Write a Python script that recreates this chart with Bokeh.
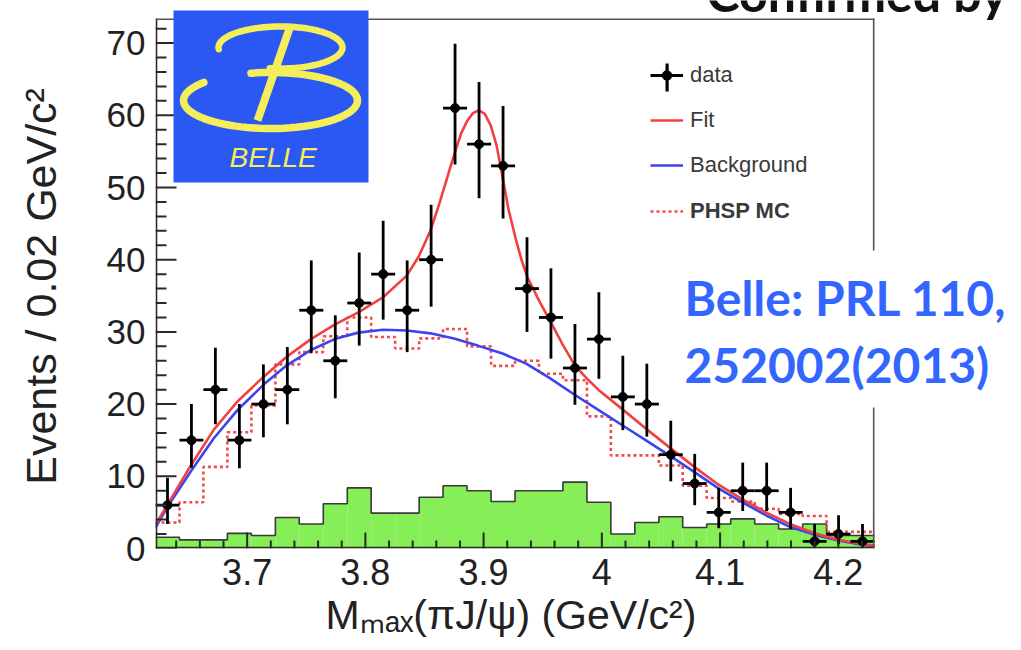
import numpy as np
from bokeh.plotting import figure
from bokeh.models import (Range1d, FixedTicker, Label, BoxAnnotation, PolyAnnotation,
                          Legend, LegendItem, ColumnDataSource, Title)
from bokeh.embed import file_html
from bokeh.resources import INLINE

# ---------------- data ----------------
bin_edges = [3.6225, 3.6428, 3.6630, 3.6833, 3.7036, 3.7239, 3.7441, 3.7644, 3.7847,
             3.8049, 3.8252, 3.8455, 3.8657, 3.8860, 3.9063, 3.9266, 3.9468, 3.9671,
             3.9874, 4.0076, 4.0279, 4.0482, 4.0684, 4.0887, 4.1090, 4.1293, 4.1495,
             4.1698, 4.1901, 4.2103, 4.2306]

data_counts = [6, 15, 22, 15, 20, 22, 33, 26, 34, 38, 33, 40, 61, 56, 53,
               36, 32, 25, 29, 21, 20, 13, 9, 5, 8, 8, 5, 1, 2, 1]
data_err_up = [3.8, 5.0, 5.8, 5.0, 5.5, 5.9, 6.9, 6.3, 7.0, 7.4, 6.9, 7.6, 8.9, 8.6, 8.3,
               7.1, 6.8, 6.1, 6.5, 5.7, 5.6, 4.7, 4.1, 3.4, 3.9, 3.9, 3.4, 2.4, 2.6, 2.4]
data_err_dn = [2.6, 3.8, 4.8, 3.9, 4.6, 4.8, 5.9, 5.2, 5.9, 6.3, 5.8, 6.5, 7.8, 7.5, 7.3,
               6.0, 5.7, 5.1, 5.5, 4.6, 4.5, 3.7, 3.0, 2.2, 2.8, 2.8, 2.3, 0.8, 1.4, 0.8]

phsp_mc = [3.6, 6.4, 11.3, 16.1, 19.8, 25.5, 27.2, 29.4, 32.0, 29.3, 27.7, 29.1, 30.4, 28.0, 25.3,
           26.0, 24.2, 23.3, 18.3, 12.9, 12.9, 11.5, 8.7, 7.0, 6.5, 5.5, 4.8, 4.5, 2.3, 2.3]

sideband = [1.55, 1.2, 1.2, 2.1, 1.8, 4.3, 3.4, 6.2, 8.4, 4.9, 4.9, 7.1, 8.7, 8.0, 6.5,
            8.0, 8.0, 9.2, 6.4, 2.0, 3.6, 4.4, 2.9, 3.4, 4.1, 3.4, 2.7, 3.4, 1.8, 1.8]

fit_x = [3.6225, 3.632, 3.652, 3.672, 3.692, 3.714, 3.733, 3.754, 3.774, 3.794, 3.815,
         3.835, 3.845, 3.855, 3.863, 3.870, 3.876, 3.881, 3.886, 3.891, 3.896, 3.901,
         3.906, 3.911, 3.916, 3.921, 3.927, 3.932, 3.937, 3.947, 3.957, 3.967, 3.977,
         3.987, 3.997, 4.018, 4.038, 4.058, 4.079, 4.099, 4.120, 4.140, 4.159, 4.180,
         4.200, 4.221, 4.2306]
fit_y = [3.3, 5.9, 11.4, 16.5, 20.4, 23.8, 26.5, 29.0, 31.0, 32.7, 34.8,
         37.8, 40.4, 44.0, 48.0, 51.8, 55.0, 57.5, 59.2, 60.3, 60.7, 60.2,
         58.6, 55.8, 51.5, 47.0, 43.0, 40.0, 37.6, 34.3, 31.3, 28.2, 25.4,
         23.6, 22.0, 19.2, 16.5, 13.9, 11.2, 8.8, 6.7, 4.9, 3.4, 2.1,
         1.2, 0.6, 0.4]

bkg_x = [3.6225, 3.632, 3.652, 3.672, 3.692, 3.714, 3.733, 3.754, 3.774, 3.794, 3.815,
         3.835, 3.855, 3.875, 3.895, 3.916, 3.936, 3.956, 3.976, 3.997, 4.018, 4.038,
         4.058, 4.079, 4.099, 4.120, 4.140, 4.159, 4.180, 4.200, 4.221, 4.2306]
bkg_y = [2.9, 5.6, 10.6, 15.3, 19.2, 22.7, 25.3, 27.5, 29.0, 29.9, 30.3,
         30.2, 29.8, 29.1, 28.1, 27.0, 25.6, 23.6, 21.4, 19.2, 17.0, 14.9,
         12.8, 10.5, 8.3, 6.3, 4.5, 3.0, 1.9, 1.1, 0.5, 0.3]

x_ticks = [3.7, 3.8, 3.9, 4.0, 4.1, 4.2]
x_tick_labels = ["3.7", "3.8", "3.9", "4", "4.1", "4.2"]
x_minor = [3.64, 3.66, 3.68, 3.72, 3.74, 3.76, 3.78, 3.82, 3.84, 3.86, 3.88, 3.92, 3.94,
           3.96, 3.98, 4.02, 4.04, 4.06, 4.08, 4.12, 4.14, 4.16, 4.18, 4.22]
y_ticks = [0, 10, 20, 30, 40, 50, 60, 70]
y_minor = [2, 4, 6, 8, 12, 14, 16, 18, 22, 24, 26, 28, 32, 34, 36, 38, 42, 44, 46, 48,
           52, 54, 56, 58, 62, 64, 66, 68, 72]

# ---------------- layout ----------------
W, H = 1021, 650
FL, FB = 155, 548          # plot area left / bottom (canvas px)
BOX_R, BOX_T = 874, 18     # ROOT frame right / top (canvas px)
PX_X = (BOX_R - FL) / (bin_edges[-1] - bin_edges[0])
PX_Y = 7.22
X0 = bin_edges[0]


def fx(cx):
    return cx - FL


def fy(cy):
    return FB - cy


def base(cy, size):
    # alphabetic baseline correction measured on the renderer
    return fy(cy - 0.375 * size)


p = figure(width=W, height=H, output_backend="svg", toolbar_location=None,
           x_range=Range1d(X0, X0 + (W - FL) / PX_X),
           y_range=Range1d(0, FB / PX_Y),
           min_border_left=FL, min_border_right=0, min_border_top=0,
           min_border_bottom=H - FB)
p.outline_line_color = None
p.xgrid.grid_line_color = None
p.ygrid.grid_line_color = None
p.background_fill_color = "white"
p.border_fill_color = "white"

AX = "#2a2a2a"
for ax in (p.xaxis[0], p.yaxis[0]):
    ax.axis_line_color = None
    ax.major_tick_line_color = None
    ax.minor_tick_line_color = None
    ax.major_tick_in = 0
    ax.major_tick_out = 0
    ax.minor_tick_in = 0
    ax.minor_tick_out = 0
    ax.major_label_text_font = "Liberation Sans"
    ax.major_label_text_color = "#222222"

p.xaxis.ticker = FixedTicker(ticks=x_ticks, minor_ticks=x_minor)
p.xaxis.major_label_overrides = {t: s for t, s in zip(x_ticks, x_tick_labels)}
p.xaxis.major_label_text_font_size = "36px"
p.xaxis.major_label_standoff = 10

p.yaxis.ticker = FixedTicker(ticks=y_ticks, minor_ticks=y_minor)
p.yaxis.major_label_text_font_size = "35px"
p.yaxis.major_label_standoff = 10
p.yaxis.axis_label = "Events / 0.02 GeV/c\u00b2\u00a0\u00a0"
p.yaxis.axis_label_text_font = "Liberation Sans"
p.yaxis.axis_label_text_font_style = "normal"
p.yaxis.axis_label_text_font_size = "43px"
p.yaxis.axis_label_text_color = "#222222"
p.yaxis.axis_label_standoff = 39

p.add_layout(Title(text="M\u2098\u2090\u2093(\u03c0J/\u03c8) (GeV/c\u00b2)", align="left",
                   offset=fx(325), standoff=5, text_font="Liberation Sans",
                   text_font_style="normal", text_font_size="41px", text_color="#222222"),
             "below")

# ---------------- glyphs ----------------
lefts = bin_edges[:-1]
rights = bin_edges[1:]
centers = [(a + b) / 2 for a, b in zip(lefts, rights)]

src = ColumnDataSource(dict(left=lefts, right=rights, x=centers, side=sideband, phsp=phsp_mc,
                            y=data_counts,
                            ylo=[v - d for v, d in zip(data_counts, data_err_dn)],
                            yhi=[v + u for v, u in zip(data_counts, data_err_up)]))

p.quad(left="left", right="right", bottom=0, top="side", source=src,
       fill_color="#86ee56", line_color=None)
p.step(x=bin_edges, y=sideband + [sideband[-1]], mode="after", line_color="#3a3a3a", line_width=1.6)

phsp_r = p.step(x=bin_edges, y=phsp_mc + [phsp_mc[-1]], mode="after",
                line_color="#f04a4a", line_width=2.6, line_dash="3 3")
bkg_r = p.line(bkg_x, bkg_y, line_color="#3c44f0", line_width=2.6)
fit_r = p.line(fit_x, fit_y, line_color="#f04040", line_width=2.6)

hbar_r = p.segment(x0="left", x1="right", y0="y", y1="y", source=src,
                   line_color="black", line_width=2.8)
vbar_r = p.segment(x0="x", x1="x", y0="ylo", y1="yhi", source=src,
                   line_color="black", line_width=2.8)
dot_r = p.scatter(x="x", y="y", source=src, marker="circle", size=9,
                  fill_color="black", line_color="black")

# ---------------- inward ROOT-style ticks (from the tick lists, through the scales) ----
for ticks, length in [(x_ticks, 16), (x_minor, 8)]:
    p.segment(x0=ticks, x1=ticks, y0=[0] * len(ticks), y1=[length / PX_Y] * len(ticks),
              line_color=AX, line_width=2)
for ticks, length in [(y_ticks, 21), (y_minor, 11)]:
    p.segment(x0=[X0] * len(ticks), x1=[X0 + length / PX_X] * len(ticks), y0=ticks, y1=ticks,
              line_color=AX, line_width=2)


# ---------------- ROOT frame ----------------
def sbox(l, r, t, b, color, alpha=1.0):
    return BoxAnnotation(left=l, right=r, top=t, bottom=b, left_units="screen",
                         right_units="screen", top_units="screen", bottom_units="screen",
                         fill_color=color, fill_alpha=alpha, line_color=None)


p.add_layout(sbox(0, 1.8, fy(BOX_T), 0, AX))                                  # left
p.add_layout(sbox(0, fx(BOX_R), 1.8, 0, AX))                                  # bottom
p.add_layout(sbox(0, fx(BOX_R), fy(BOX_T), fy(BOX_T) - 1.6, "#555555"))       # top
p.add_layout(sbox(fx(BOX_R) - 1.6, fx(BOX_R), fy(BOX_T), fy(250), "#555555"))  # right (upper)
p.add_layout(sbox(fx(BOX_R) - 1.6, fx(BOX_R), fy(407), 0, "#555555"))          # right (lower)

# ---------------- legend ----------------
leg_common = dict(border_line_color=None, background_fill_alpha=0, padding=0, margin=0,
                  glyph_width=33, glyph_height=24, label_height=24, label_standoff=7,
                  label_text_font="Liberation Sans", label_text_font_size="22px",
                  label_text_color="#3a3a3a", spacing=19)
leg1 = Legend(items=[LegendItem(label="data", renderers=[hbar_r, dot_r]),
                     LegendItem(label="Fit", renderers=[fit_r]),
                     LegendItem(label="Background", renderers=[bkg_r])],
              location=(fx(650), fy(178)), **leg_common)
leg2 = Legend(items=[LegendItem(label="PHSP MC", renderers=[phsp_r])],
              location=(fx(650), fy(224)), label_text_font_style="bold", **leg_common)
p.add_layout(leg1)
p.add_layout(leg2)
p.add_layout(sbox(fx(665), fx(668.2), fy(63), fy(91), "black"))

# ---------------- Belle logo ----------------
p.add_layout(sbox(fx(173), fx(368), fy(10), fy(182), "#2b58f2"))
YEL = "#f4ee5a"


def arc(cx, cy, rx, ry, t0, t1, n=80):
    t = np.radians(np.linspace(t0, t1, n))
    xs = cx + rx * np.cos(t)
    ys = cy - ry * np.sin(t)
    xs = list(xs) + list(xs[::-1])
    ys = list(ys) + list(ys[::-1])
    return [fx(v) for v in xs], [fy(v) for v in ys]


for (cx, cy, rx, ry, t0, t1, lw) in [(280, 47, 62, 21, 185, -100, 6.5),
                                      (270, 100, 87, 28, 140, 463, 7.5)]:
    xs, ys = arc(cx, cy, rx, ry, t0, t1)
    p.add_layout(PolyAnnotation(xs=xs, ys=ys, xs_units="screen", ys_units="screen",
                                fill_alpha=0, line_color=YEL, line_alpha=1,
                                line_width=lw, line_join="round", line_cap="round"))
p.add_layout(PolyAnnotation(xs=[fx(289), fx(257), fx(289)], ys=[fy(28), fy(120), fy(28)],
                            xs_units="screen", ys_units="screen", fill_alpha=0,
                            line_color=YEL, line_alpha=1, line_width=8, line_cap="round"))
p.add_layout(Label(x=fx(229), y=base(167, 28), x_units="screen", y_units="screen",
                   text="BELLE", text_font="Liberation Sans", text_font_style="italic",
                   text_font_size="28px", text_color=YEL, text_baseline="alphabetic"))

# ---------------- slide texts ----------------
bt = dict(x_units="screen", y_units="screen", text_font="Lato", text_font_style="bold",
          text_baseline="alphabetic")
p.add_layout(Label(x=fx(684), y=base(315, 48), text="Belle: PRL 110,", text_font_size="48px",
                   text_color="#3366ff", **bt))
p.add_layout(Label(x=fx(684), y=base(382, 48), text="252002(2013)", text_font_size="48px",
                   text_color="#3366ff", **bt))
p.add_layout(Label(x=fx(706), y=base(11, 50), text="Confirmed by", text_font_size="50px",
                   text_color="#111111", **bt))

open("out.html", "w").write(file_html(p, INLINE))
